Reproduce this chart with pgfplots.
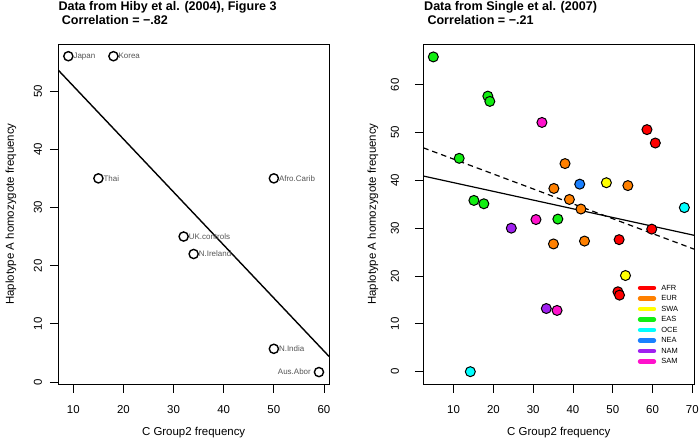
\documentclass[border=0pt]{standalone}
\usepackage{pgfplots}
\pgfplotsset{compat=1.18}
\usepackage{pgfplotstable}
\usepackage{fontspec}
\setmainfont{Liberation Sans}
\definecolor{cafr}{HTML}{FF0000}
\definecolor{ceur}{HTML}{FF8000}
\definecolor{cswa}{HTML}{FFFF00}
\definecolor{ceas}{HTML}{11EE11}
\definecolor{coce}{HTML}{00FFFF}
\definecolor{cnea}{HTML}{1A80FF}
\definecolor{cnam}{HTML}{A020F0}
\definecolor{csam}{HTML}{FF11CC}
\definecolor{lblgray}{HTML}{555555}

\pgfplotstableread{
x y label
9 56 Japan
18 56 Korea
15 35 Thai
50 35 Afro.Carib
32 25 UK.controls
34 22 N.Ireland
50 5.7 N.India
}\hibyR
\pgfplotstableread{
x y label
59 1.7 Aus.Abor
}\hibyL

\pgfplotstableread{
x y
58.6 50.6
60.7 47.8
59.8 29.8
51.6 27.6
51.3 16.7
51.7 16.0
}\tAFR
\pgfplotstableread{
x y
38.0 43.5
53.8 38.9
35.2 38.3
39.1 36.0
42.0 34.0
35.1 26.7
42.9 27.3
}\tEUR
\pgfplotstableread{
x y
48.4 39.5
53.2 20.1
}\tSWA
\pgfplotstableread{
x y
4.9 65.8
18.6 57.6
19.1 56.5
11.4 44.6
15.1 35.8
17.6 35.1
36.2 31.9
}\tEAS
\pgfplotstableread{
x y
68.0 34.3
14.2 0
}\tOCE
\pgfplotstableread{
x y
41.7 39.2
}\tNEA
\pgfplotstableread{
x y
24.5 30.0
33.3 13.2
}\tNAM
\pgfplotstableread{
x y
32.2 52.1
30.7 31.8
36.0 12.8
}\tSAM

\pgfplotsset{
  base/.style={
    scale only axis,
    axis line style={line width=0.9bp},
    tick style={line width=0.9bp, black},
    tick align=outside,
    major tick length=8.5bp,
    xtick pos=bottom, ytick pos=left,
    /pgf/number format/assume math mode=true,
    tick label style={font=\fontsize{11.5}{12}\selectfont},
    label style={font=\fontsize{11.5}{12}\selectfont},
    xticklabel style={anchor=center, yshift=-17.2bp},
    xlabel={C Group2 frequency},
    ylabel={Haplotype A homozygote frequency},
    xlabel style={at={(axis description cs:0.5,-0.1431)}, anchor=center},
  },
  rpt/.style={only marks, mark=*, mark size=5bp,
    mark options={draw=black, fill=#1, line width=1bp}},
}

\begin{document}
\begin{tikzpicture}
\useasboundingbox (0bp,0bp) rectangle (699bp,446bp);

\node[anchor=base west, font=\bfseries\fontsize{12.6}{14}\selectfont, inner sep=0pt] at (58.3bp,435.5bp) {Data from Hiby et al. (2004), Figure 3};
\node[anchor=base west, font=\bfseries\fontsize{12.6}{14}\selectfont, inner sep=0pt] at (61.7bp,421.5bp) {Correlation = −.82};
\node[anchor=base west, font=\bfseries\fontsize{12.6}{14}\selectfont, inner sep=0pt] at (424bp,435.5bp) {Data from Single et al. (2007)};
\node[anchor=base west, font=\bfseries\fontsize{12.6}{14}\selectfont, inner sep=0pt] at (427.3bp,421.5bp) {Correlation = −.21};

\begin{axis}[base,
  at={(58.3bp,61.7bp)}, anchor=south west,
  width=270.7bp, height=340.3bp,
  xmin=7, xmax=61, ymin=-0.4, ymax=58.1,
  xtick={10,20,30,40,50,60}, ytick={0,10,20,30,40,50},
  yticklabel style={anchor=center, xshift=-11.8bp, rotate=90},
  ylabel style={at={(axis description cs:-0.1747,0.5)}, anchor=center},
]
\addplot[only marks, mark=o, mark size=4.6bp, mark options={line width=1.4bp, black},
  nodes near coords, point meta=explicit symbolic,
  every node near coord/.append style={anchor=west, xshift=3.5bp, inner sep=1bp,
    font=\fontsize{8}{9}\selectfont, text=lblgray}]
  table[x=x, y=y, meta=label] {\hibyR};
\addplot[only marks, mark=o, mark size=4.6bp, mark options={line width=1.4bp, black},
  nodes near coords, point meta=explicit symbolic,
  every node near coord/.append style={anchor=east, xshift=-6.5bp, inner sep=1bp,
    font=\fontsize{8}{9}\selectfont, text=lblgray}]
  table[x=x, y=y, meta=label] {\hibyL};
\addplot[black, line width=1.4bp] coordinates {(7,53.6) (61,4.4)};
\end{axis}

\begin{axis}[base,
  at={(423.3bp,61.7bp)}, anchor=south west,
  width=271bp, height=340.3bp,
  xmin=2.38, xmax=70.5, ymin=-2.64, ymax=68.5,
  xtick={10,20,30,40,50,60,70}, ytick={0,10,20,30,40,50,60},
  yticklabel style={anchor=center, xshift=-19.8bp, rotate=90},
  ylabel style={at={(axis description cs:-0.1856,0.5)}, anchor=center},
  legend style={draw=none, fill=none, at={(axis description cs:0.7915,0.2984)},
    anchor=north west, inner sep=0pt, outer sep=0pt, row sep=0pt, column sep=3.6bp,
    font=\fontsize{7.5}{8}\selectfont,
    nodes={inner sep=1.5bp, text height=6bp, text depth=1.5bp}},
  legend cell align=left,
  legend image code/.code={\draw[#1, line width=4.5bp, line cap=round] (2.25bp,0bp) -- (16.15bp,0bp);},
]
\addplot[rpt=ceas, forget plot] table {\tEAS};
\addplot[rpt=cafr, forget plot] table {\tAFR};
\addplot[rpt=ceur, forget plot] table {\tEUR};
\addplot[rpt=cswa, forget plot] table {\tSWA};
\addplot[rpt=coce, forget plot] table {\tOCE};
\addplot[rpt=cnea, forget plot] table {\tNEA};
\addplot[rpt=cnam, forget plot] table {\tNAM};
\addplot[rpt=csam, forget plot] table {\tSAM};
\addplot[black, line width=1.2bp, forget plot] coordinates {(2.38,40.9) (70.5,28.5)};
\addplot[black, line width=1.2bp, dash pattern=on 5.5bp off 4bp, forget plot] coordinates {(2.38,46.8) (70.5,25.6)};
\addlegendimage{cafr}\addlegendentry{AFR}
\addlegendimage{ceur}\addlegendentry{EUR}
\addlegendimage{cswa}\addlegendentry{SWA}
\addlegendimage{ceas}\addlegendentry{EAS}
\addlegendimage{coce}\addlegendentry{OCE}
\addlegendimage{cnea}\addlegendentry{NEA}
\addlegendimage{cnam}\addlegendentry{NAM}
\addlegendimage{csam}\addlegendentry{SAM}
\end{axis}
\end{tikzpicture}
\end{document}
